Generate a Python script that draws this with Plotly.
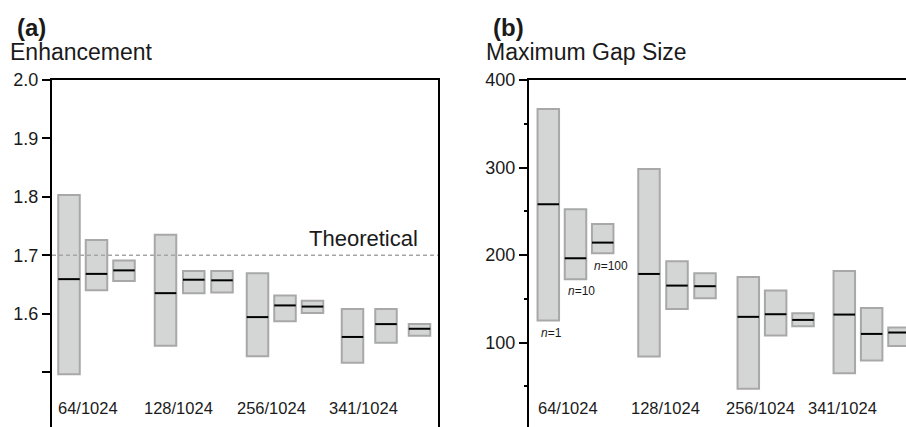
import plotly.graph_objects as go

# ---------------- data ----------------
groups = ["64/1024", "128/1024", "256/1024", "341/1024"]
n_labels = ["<i>n</i>=1", "<i>n</i>=10", "<i>n</i>=100"]
theoretical = 1.7

# Enhancement (panel a): 3 bars per group (n=1, n=10, n=100)
enh_low = [1.496, 1.640, 1.656, 1.545, 1.635, 1.636, 1.527, 1.587, 1.601, 1.516, 1.550, 1.562]
enh_high = [1.803, 1.726, 1.691, 1.735, 1.673, 1.673, 1.669, 1.631, 1.622, 1.608, 1.608, 1.582]
enh_med = [1.659, 1.668, 1.674, 1.635, 1.658, 1.657, 1.594, 1.614, 1.612, 1.560, 1.582, 1.574]

# Maximum gap size (panel b)
gap_low = [125.2, 172.5, 202.1, 84.2, 138.6, 150.8, 47.3, 108.2, 118.7, 65.1, 79.6, 96.3]
gap_high = [366.9, 252.4, 235.6, 298.4, 193.0, 179.3, 175.1, 159.5, 133.6, 182.0, 139.7, 117.3]
gap_med = [258.1, 196.4, 214.3, 178.5, 165.2, 164.5, 129.5, 132.5, 126.0, 132.1, 110.0, 111.6]

enh_ticks = [1.5, 1.6, 1.7, 1.8, 1.9, 2.0]
enh_ticktext = ["", "1.6", "1.7", "1.8", "1.9", "2.0"]
gap_ticks = [100, 200, 300, 400]
gap_minor = [50, 150, 250, 350]

# ---------------- layout constants ----------------
W, H = 906, 427
FONT = "Liberation Sans, Arial, Helvetica, sans-serif"
FILL = "#d4d6d5"
EDGE = "#a8a8a8"

a_start = [17, 113.5, 205.5, 300.5]
a_step = [27.5, 28.25, 27.5, 33.5]
b_start = [19.3, 120, 219.3, 315.3]
b_step = [27.2, 28, 27.35, 27.35]
bw_a, bw_b = 21.5, 21.5


def positions(starts, steps):
    xs = []
    for s, d in zip(starts, steps):
        xs += [s + k * d for k in range(3)]
    return xs


xa = positions(a_start, a_step)
xb = positions(b_start, b_step)


def med_lines(xs, meds, w):
    lx, ly = [], []
    for x, m in zip(xs, meds):
        lx += [x - w / 2, x + w / 2, None]
        ly += [m, m, None]
    return lx, ly


fig = go.Figure()

# panel a bars
fig.add_trace(go.Bar(
    x=xa, y=[h - l for h, l in zip(enh_high, enh_low)], base=enh_low, width=bw_a,
    marker=dict(color=FILL, line=dict(color=EDGE, width=2)),
    xaxis="x", yaxis="y", hoverinfo="skip"))
lx, ly = med_lines(xa, enh_med, bw_a)
fig.add_trace(go.Scatter(x=lx, y=ly, mode="lines", line=dict(color="black", width=2),
                         xaxis="x", yaxis="y", hoverinfo="skip"))
fig.add_trace(go.Scatter(x=[0, 386], y=[theoretical, theoretical], mode="lines",
                         line=dict(color="#a5a5a5", width=1.6, dash="4px,3px"),
                         xaxis="x", yaxis="y", hoverinfo="skip"))

# panel b bars
fig.add_trace(go.Bar(
    x=xb, y=[h - l for h, l in zip(gap_high, gap_low)], base=gap_low, width=bw_b,
    marker=dict(color=FILL, line=dict(color=EDGE, width=2)),
    xaxis="x2", yaxis="y2", hoverinfo="skip"))
lx, ly = med_lines(xb, gap_med, bw_b)
fig.add_trace(go.Scatter(x=lx, y=ly, mode="lines", line=dict(color="black", width=2),
                         xaxis="x2", yaxis="y2", hoverinfo="skip"))

ytop = 1 - 80 / H
common_x = dict(showline=True, linecolor="black", linewidth=2, side="top", automargin=False,
                showticklabels=False, ticks="", showgrid=False, zeroline=False, fixedrange=True)
common_y = dict(showline=True, linecolor="black", linewidth=2, ticks="outside", automargin=False,
                ticklen=8, tickwidth=2, tickcolor="black", showgrid=False, zeroline=False,
                tickfont=dict(size=18, color="#1a1a1a"), domain=[0, ytop])

fig.update_layout(
    template="none",
    width=W, height=H, margin=dict(l=0, r=0, t=0, b=0, pad=0), autosize=False,
    paper_bgcolor="white", plot_bgcolor="white", showlegend=False,
    font=dict(family=FONT, color="#1a1a1a"), barmode="overlay",
    xaxis=dict(domain=[52 / W, 438 / W], range=[0, 386], anchor="y", **common_x),
    yaxis=dict(range=[1.4058, 2.0], tickvals=enh_ticks, ticktext=enh_ticktext,
               mirror=True, anchor="x", **common_y),
    xaxis2=dict(domain=[529 / W, 1.0], range=[0, 377], anchor="y2", **common_x),
    yaxis2=dict(range=[3.7, 400], tickvals=gap_ticks, anchor="x2",
                minor=dict(tickvals=gap_minor, ticks="outside", ticklen=3, tickwidth=2,
                           tickcolor="black"),
                **common_y),
)

ann = []
# titles
ann.append(dict(text="<b>(a)</b>", x=15 / W, y=1 - 28 / H, xanchor="left", yanchor="middle",
                font=dict(size=24)))
ann.append(dict(text="Enhancement", x=8 / W, y=1 - 52 / H, xanchor="left", yanchor="middle",
                font=dict(size=23)))
ann.append(dict(text="<b>(b)</b>", x=491 / W, y=1 - 28 / H, xanchor="left", yanchor="middle",
                font=dict(size=24)))
ann.append(dict(text="Maximum Gap Size", x=484 / W, y=1 - 52 / H, xanchor="left",
                yanchor="middle", font=dict(size=23)))
# theoretical label
ann.append(dict(text="Theoretical", xref="x", yref="y", x=368, y=theoretical,
                xanchor="right", yanchor="bottom", yshift=2, font=dict(size=22)))
# group labels
a_lab = [36, 126, 219, 311]
b_lab = [38.5, 136, 231.8, 313.5]
for g, xl in zip(groups, a_lab):
    ann.append(dict(text=g, xref="x", yref="paper", x=xl, y=1 - 408 / H,
                    xanchor="center", yanchor="middle", font=dict(size=16.5)))
for g, xl in zip(groups, b_lab):
    ann.append(dict(text=g, xref="x2", yref="paper", x=xl, y=1 - 408 / H,
                    xanchor="center", yanchor="middle", font=dict(size=16.5)))
# n labels under first group of panel b
n_x = [539 - 529, 566 - 529, 592.3 - 529]
n_y = [333, 290.8, 265.8]
for t, xx, yy in zip(n_labels, n_x, n_y):
    ann.append(dict(text=t, xref="x2", yref="paper", x=xx, y=1 - yy / H,
                    xanchor="left", yanchor="middle", font=dict(size=12)))

for a in ann:
    a.setdefault("xref", "paper")
    a.setdefault("yref", "paper")
    a["showarrow"] = False
fig.update_layout(annotations=ann)

fig.write_html(
    "out.html",
    config={"displayModeBar": False, "staticPlot": True},
    post_script=(
        "document.documentElement.style.margin='0';"
        "document.body.style.margin='0';document.body.style.padding='0';"
        "document.body.style.overflow='hidden';"
        "var d=document.getElementById('{plot_id}');"
        "d.style.position='fixed';d.style.top='0px';d.style.left='0px';"
    ),
)
